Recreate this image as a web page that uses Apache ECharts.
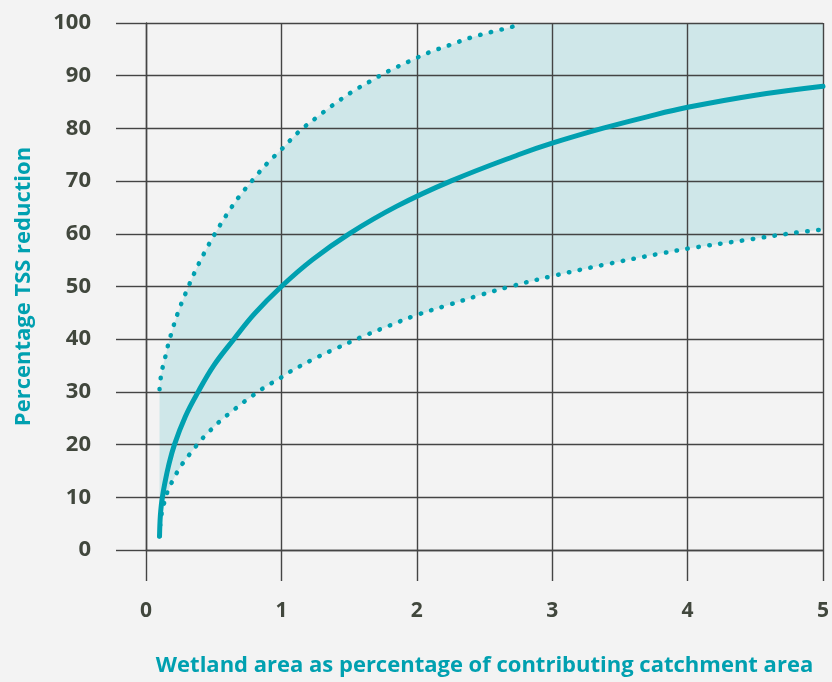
<!DOCTYPE html>
<html>
<head>
<meta charset="utf-8">
<script src="https://cdn.jsdelivr.net/npm/echarts@6/dist/echarts.min.js"></script>
<style>
  html, body { margin: 0; padding: 0; background: #f3f3f3; }
  #chart { width: 832px; height: 682px; }
</style>
</head>
<body>
<div id="chart"></div>
<script>
// Wetland area (% of catchment) vs. expected TSS reduction (%)
const X_MIN = 0, X_MAX = 5, X_STEP = 1;
const Y_MIN = 0, Y_MAX = 100, Y_STEP = 10;

// Typical performance curve
const centralCurve = [
  [0.1, 2.6], [0.102, 4.5], [0.106, 6.5], [0.113, 8.5], [0.122, 10.2],
  [0.14, 12.8], [0.165, 15.8], [0.21, 20.0], [0.29, 25.3], [0.385, 30.0],
  [0.5, 35.0], [0.649, 40.0], [0.8, 44.8], [1.0, 50.0], [1.23, 55.1],
  [1.5, 60.0], [1.85, 65.2], [2.25, 70.0], [2.75, 75.0], [3.0, 77.2],
  [3.37, 80.0], [3.7, 82.2], [4.0, 84.0], [4.5, 86.3], [5.0, 88.0]
];

// Upper limit of the performance envelope
const upperBound = [
  [0.1, 30.5], [0.11, 32.9], [0.125, 34.9], [0.145, 36.9], [0.164, 39.0],
  [0.186, 41.0], [0.235, 45.0], [0.294, 48.8], [0.358, 52.6], [0.431, 56.4],
  [0.509, 60.0], [0.595, 63.6], [0.686, 67.0], [0.788, 70.2], [0.896, 73.4],
  [1.0, 76.0], [1.126, 79.3], [1.251, 81.9], [1.379, 84.4], [1.514, 86.8],
  [1.653, 88.9], [1.793, 90.9], [1.942, 92.7], [2.089, 94.4], [2.241, 95.8],
  [2.395, 97.2], [2.55, 98.3], [2.706, 99.3], [2.77, 100]
];

// Lower limit of the performance envelope
const lowerBound = [
  [0.1, 2.6], [0.11, 6.0], [0.132, 8.7], [0.152, 10.6], [0.184, 12.5],
  [0.22, 14.3], [0.262, 16.1], [0.311, 17.8], [0.36, 19.4], [0.411, 21.0],
  [0.468, 22.5], [0.527, 24.0], [0.586, 25.3], [0.649, 26.6], [0.713, 27.9],
  [0.777, 29.1], [0.843, 30.3], [0.909, 31.4], [0.979, 32.4], [1.048, 33.6],
  [1.259, 36.5], [1.401, 38.2], [1.6, 40.5], [1.8, 42.6], [2.0, 44.6],
  [2.234, 46.5], [2.459, 48.3], [2.691, 50.0], [3.005, 52.0], [3.397, 54.2],
  [3.789, 56.2], [4.029, 57.3], [4.425, 58.8], [4.822, 60.3], [5.0, 60.8]
];

const xAxisTitle = 'Wetland area as percentage of contributing catchment area';
const yAxisTitle = 'Percentage TSS reduction';

const TEAL = '#00a0b0';
const BAND = '#cfe7e9';
const GRID_LINE = '#444444';
const LABEL = '#41473d';
const FONT = '"Open Sans", "Noto Sans", sans-serif';

const gridLineStyle = { color: GRID_LINE, width: 1.4 };

const chart = echarts.init(document.getElementById('chart'), null, { renderer: 'canvas' });

chart.setOption({
  animation: false,
  backgroundColor: '#f3f3f3',
  grid: { left: 146, right: 5, top: 23, bottom: 130, containLabel: false },
  xAxis: {
    type: 'value',
    min: X_MIN, max: X_MAX, interval: X_STEP,
    axisLine: { show: true, lineStyle: gridLineStyle },
    axisTick: { show: true, inside: false, length: 31, lineStyle: gridLineStyle },
    splitLine: { show: true, lineStyle: gridLineStyle },
    axisLabel: { margin: 51, color: LABEL, fontFamily: FONT, fontWeight: 'bold', fontSize: 21 },
    name: xAxisTitle,
    nameLocation: 'middle',
    nameGap: 105,
    nameTextStyle: { color: TEAL, fontFamily: FONT, fontWeight: 'bold', fontSize: 22 }
  },
  yAxis: {
    type: 'value',
    min: Y_MIN, max: Y_MAX, interval: Y_STEP,
    axisLine: { show: true, lineStyle: gridLineStyle },
    axisTick: { show: true, inside: false, length: 30, lineStyle: gridLineStyle },
    splitLine: { show: true, lineStyle: gridLineStyle },
    axisLabel: { margin: 55, color: LABEL, fontFamily: FONT, fontWeight: 'bold', fontSize: 22 },
    name: yAxisTitle,
    nameLocation: 'middle',
    nameRotate: 90,
    nameGap: 111,
    nameTextStyle: { color: TEAL, fontFamily: FONT, fontWeight: 'bold', fontSize: 22 }
  },
  series: [
    {
      // shaded envelope between the lower and upper limits, capped at the axis top
      type: 'custom',
      z: -1,
      silent: true,
      data: [[X_MIN, Y_MIN]],
      renderItem: function (params, api) {
        const pts = upperBound.map(p => api.coord(p));
        pts.push(api.coord([X_MAX, Y_MAX]));
        for (let i = lowerBound.length - 1; i >= 0; i--) {
          pts.push(api.coord(lowerBound[i]));
        }
        return { type: 'polygon', shape: { points: pts }, style: { fill: BAND } };
      }
    },
    {
      type: 'line',
      data: upperBound,
      smooth: 0.4,
      showSymbol: false,
      lineStyle: { color: TEAL, width: 4.5, type: [0.5, 10.5], cap: 'round' }
    },
    {
      type: 'line',
      data: lowerBound,
      smooth: 0.4,
      showSymbol: false,
      lineStyle: { color: TEAL, width: 4.5, type: [0.5, 10.5], cap: 'round' }
    },
    {
      type: 'line',
      data: centralCurve,
      smooth: 0.4,
      showSymbol: false,
      lineStyle: { color: TEAL, width: 5, cap: 'round' }
    }
  ]
});
</script>
</body>
</html>
